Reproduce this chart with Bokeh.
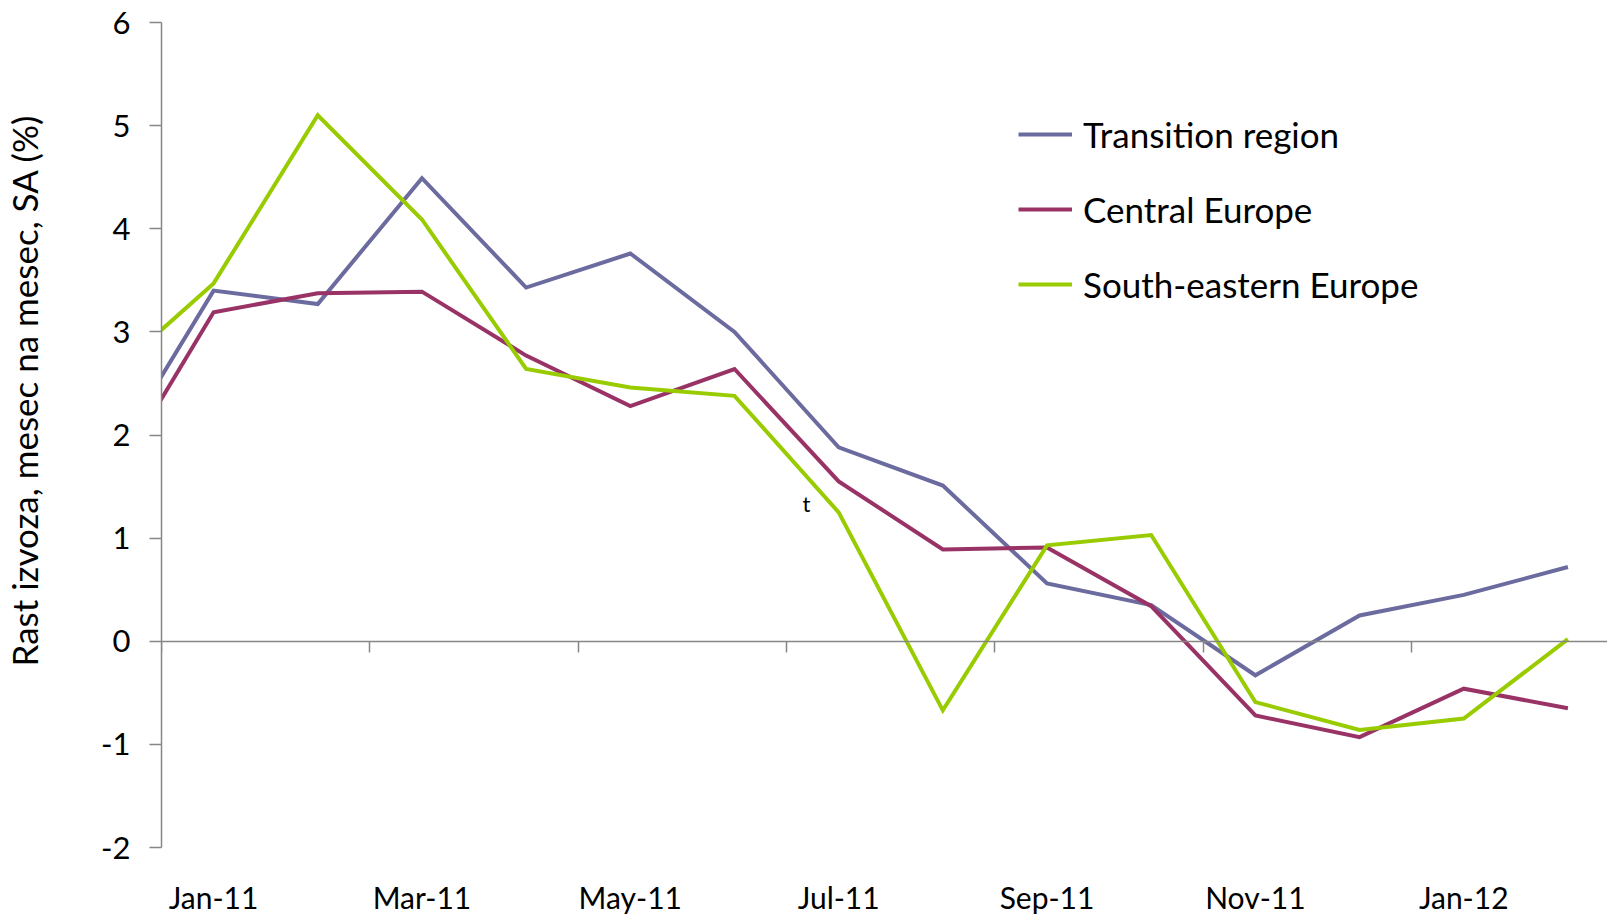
import numpy as np
from bokeh.plotting import figure
from bokeh.models import (Range1d, LinearAxis, FixedTicker, Legend, LegendItem, Label, Title)
from bokeh.embed import file_html
from bokeh.resources import INLINE

# Month index: 0 = Dec-10 (left of axis start), 1 = Jan-11 ... 14 = Feb-12
months = ["Dec-10", "Jan-11", "Feb-11", "Mar-11", "Apr-11", "May-11", "Jun-11", "Jul-11",
          "Aug-11", "Sep-11", "Oct-11", "Nov-11", "Dec-11", "Jan-12", "Feb-12"]
transition = [1.74, 3.40, 3.27, 4.49, 3.43, 3.76, 3.00, 1.88, 1.51, 0.56, 0.35, -0.33, 0.25, 0.45, 0.72]
central = [1.51, 3.19, 3.375, 3.39, 2.77, 2.28, 2.64, 1.55, 0.89, 0.91, 0.34, -0.72, -0.93, -0.46, -0.65]
southeast = [2.57, 3.47, 5.10, 4.09, 2.64, 2.46, 2.38, 1.25, -0.67, 0.93, 1.03, -0.59, -0.86, -0.75, 0.02]

series_names = ["Transition region", "Central Europe", "South-eastern Europe"]
series_colors = ["#6B6B9F", "#993366", "#99CC00"]

label_ticks = [1, 3, 5, 7, 9, 11, 13]
label_text = ["Jan-11", "Mar-11", "May-11", "Jul-11", "Sep-11", "Nov-11", "Jan-12"]
minor_ticks = [0.5, 2.5, 4.5, 6.5, 8.5, 10.5, 12.5]
y_ticks = [-2, -1, 0, 1, 2, 3, 4, 5, 6]
y_tick_text = ["-2", "-1", "0", "1", "2", "3", "4", "5", "6"]
y_title = "Rast izvoza, mesec na mesec, SA (%)"

FONT = "Lato"
AXIS_COLOR = "#868686"

x = list(range(len(months)))

p = figure(width=1607, height=917, output_backend="svg", toolbar_location=None,
           x_range=Range1d(0.5, 14.38), y_range=Range1d(-2, 6),
           min_border_left=161, min_border_right=0, min_border_top=22, min_border_bottom=70,
           x_axis_location=None, y_axis_location=None)
p.background_fill_color = None
p.border_fill_color = "white"
p.outline_line_color = None
p.xgrid.visible = False
p.ygrid.visible = False

# Y axis (transparent placeholder axis label only reserves room)
yax = LinearAxis(ticker=FixedTicker(ticks=y_ticks))
yax.axis_line_color = AXIS_COLOR
yax.axis_line_width = 1.5
yax.major_tick_line_color = AXIS_COLOR
yax.major_tick_line_width = 1.5
yax.major_tick_out = 12
yax.major_tick_in = 0
yax.minor_tick_line_color = None
yax.major_label_overrides = {t: s for t, s in zip(y_ticks, y_tick_text)}
yax.major_label_text_font = FONT
yax.major_label_text_font_size = "31px"
yax.major_label_text_color = "black"
yax.major_label_standoff = 19
yax.axis_label = "x"
yax.axis_label_text_alpha = 0
yax.axis_label_text_font_size = "10px"
yax.axis_label_standoff = 38
p.add_layout(yax, "left")

# Y title on the left side
ttl = Title(text=y_title, align="left", offset=181, vertical_align="top",
            text_font=FONT, text_font_size="35px", text_font_style="normal",
            text_color="black", standoff=0)
p.add_layout(ttl, "left")

# Zero line axis with tick marks
zax = LinearAxis(ticker=FixedTicker(ticks=minor_ticks), fixed_location=0)
zax.axis_line_color = AXIS_COLOR
zax.axis_line_width = 1.5
zax.major_tick_line_color = AXIS_COLOR
zax.major_tick_line_width = 1.5
zax.major_tick_out = 11
zax.major_tick_in = 0
zax.minor_tick_line_color = None
zax.major_label_text_font_size = "0px"
zax.major_label_standoff = 0
zax.major_label_overrides = {t: "" for t in minor_ticks}
p.add_layout(zax, "below")

# Category label axis at the bottom
lax = LinearAxis(ticker=FixedTicker(ticks=label_ticks))
lax.axis_line_color = None
lax.major_tick_line_color = None
lax.minor_tick_line_color = None
lax.major_label_overrides = {t: s for t, s in zip(label_ticks, label_text)}
lax.major_label_text_font = FONT
lax.major_label_text_font_size = "30px"
lax.major_label_text_color = "black"
lax.major_label_standoff = 25
p.add_layout(lax, "below")

renderers = []
for vals, c in zip([transition, central, southeast], series_colors):
    r = p.line(x, vals, line_color=c, line_width=4, line_join="miter")
    renderers.append(r)

legend = Legend(items=[LegendItem(label=n, renderers=[r]) for n, r in zip(series_names, renderers)],
                location=(857, 542))
legend.label_text_font = FONT
legend.label_text_font_size = "35px"
legend.label_text_color = "black"
legend.glyph_width = 54
legend.glyph_height = 40
legend.label_height = 40
legend.spacing = 33
legend.padding = 0
legend.margin = 0
legend.label_standoff = 11
legend.border_line_color = None
legend.background_fill_color = None
p.add_layout(legend, "center")

tlabel = Label(x=6.69, y=1.34, text="t", text_align="center", text_baseline="middle",
               text_font=FONT, text_font_size="22px", text_color="black")
p.add_layout(tlabel)

open("out.html", "w").write(file_html(p, INLINE))
